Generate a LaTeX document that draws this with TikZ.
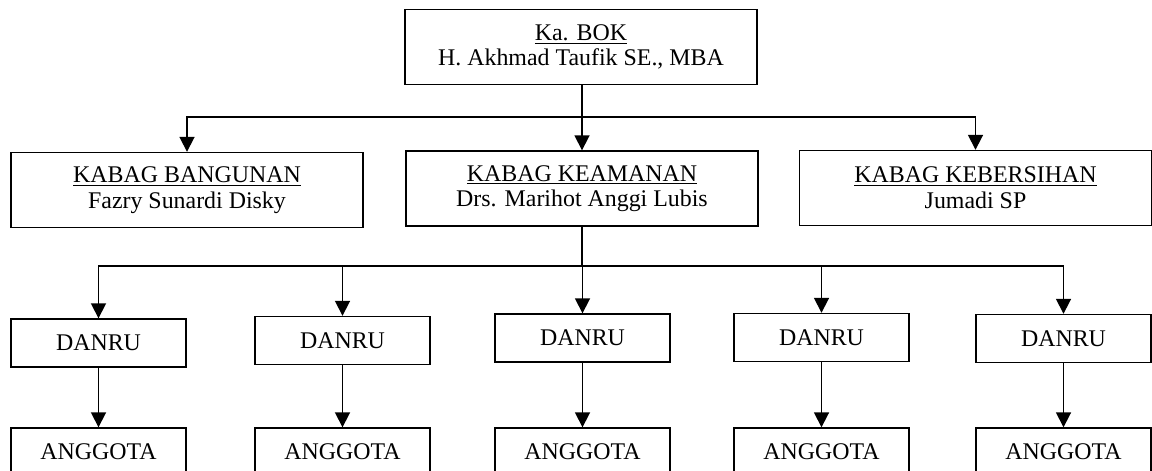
\documentclass[tikz,border=0pt]{standalone}
\usepackage{fontspec}
\setmainfont{Liberation Serif}
\usetikzlibrary{arrows.meta}

\begin{document}
\begin{tikzpicture}[x=0.02cm, y=-0.02cm,
    bigbox/.style={draw, line width=0.8pt, minimum width=7.04cm, minimum height=1.5cm, align=center, inner sep=0pt},
    smallbox/.style={draw, line width=0.8pt, minimum width=3.5cm, minimum height=0.96cm, inner sep=0pt},
    conn/.style={line width=1pt},
    arr/.style={line width=1pt, -{Triangle[length=8.5pt, width=8.5pt]}}]
    \tikzstyle{every node}+=[font=\fontsize{13.6}{14.6}\selectfont]
    \useasboundingbox (0,0) rectangle (1152,470);
    % top
    \node [bigbox] (bok) at (581,47) {\underline{Ka. BOK}\\H. Akhmad Taufik SE., MBA};
    % kabag
    \node [bigbox] (bangunan) at (187,190) {\underline{KABAG BANGUNAN}\\Fazry Sunardi Disky};
    \node [bigbox] (keamanan) at (582,188.5) {\underline{KABAG KEAMANAN}\\Drs. Marihot Anggi Lubis};
    \node [bigbox] (kebersihan) at (975.5,188) {\underline{KABAG KEBERSIHAN}\\Jumadi SP};
    % danru
    \node [smallbox] (danru1) at (98.5,343) {DANRU};
    \node [smallbox] (danru2) at (342.5,340.5) {DANRU};
    \node [smallbox] (danru3) at (582.5,338) {DANRU};
    \node [smallbox] (danru4) at (821.5,337.5) {DANRU};
    \node [smallbox] (danru5) at (1063.5,338.5) {DANRU};
    % anggota
    \node [smallbox] (anggota1) at (98.5,452) {ANGGOTA};
    \node [smallbox] (anggota2) at (342.5,452) {ANGGOTA};
    \node [smallbox] (anggota3) at (582.5,452) {ANGGOTA};
    \node [smallbox] (anggota4) at (821.5,452) {ANGGOTA};
    \node [smallbox] (anggota5) at (1063.5,452) {ANGGOTA};
    % connectors
    \coordinate (j1) at (582,117);
    \coordinate (j2) at (582,266);
    \draw [conn] (bok.south -| j1) -- (j1);
    \draw [arr] (j1) -| (bangunan.north);
    \draw [arr] (j1) -- (keamanan.north -| j1);
    \draw [arr] (j1) -| (kebersihan.north);
    \draw [conn] (keamanan.south -| j2) -- (j2);
    \draw [arr] (j2) -| (danru1.north);
    \draw [arr] (j2) -| (danru2.north);
    \draw [arr] (j2) -| (danru3.north);
    \draw [arr] (j2) -| (danru4.north);
    \draw [arr] (j2) -| (danru5.north);
    \draw [arr] (danru1) -- (anggota1);
    \draw [arr] (danru2) -- (anggota2);
    \draw [arr] (danru3) -- (anggota3);
    \draw [arr] (danru4) -- (anggota4);
    \draw [arr] (danru5) -- (anggota5);
\end{tikzpicture}
\end{document}
